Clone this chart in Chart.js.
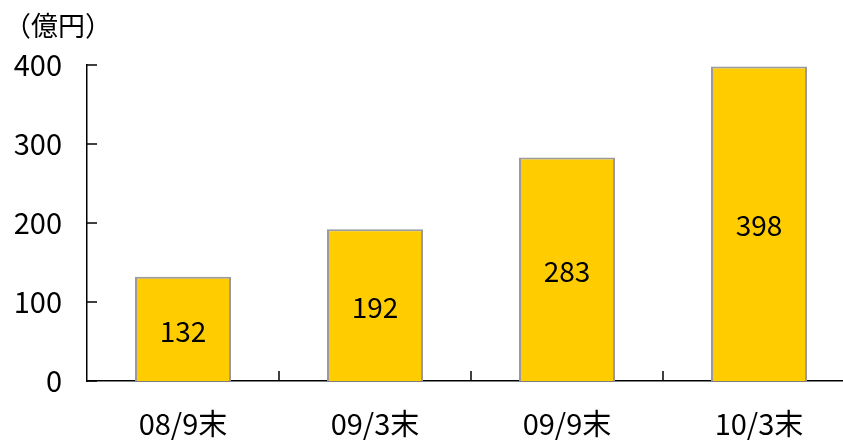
<!DOCTYPE html>
<html>
<head>
<meta charset="utf-8">
<script src="https://cdn.jsdelivr.net/npm/chart.js@4/dist/chart.umd.min.js"></script>
<style>
  html, body { margin: 0; padding: 0; background: #fff; overflow: hidden; }
  #wrap { position: relative; width: 856px; height: 440px; }
</style>
</head>
<body>
<div id="wrap"><canvas id="chart" width="856" height="440"></canvas></div>
<script>
// chart data
const categories = ["08/9末", "09/3末", "09/9末", "10/3末"];
const amounts = [132, 192, 283, 398];
const yTicks = [0, 100, 200, 300, 400];
const unitLabel = "（億円）";

const FONT = "'Noto Sans CJK JP', 'Noto Sans', sans-serif";

// inner tick marks, unit label and value labels
const decorations = {
    id: "decorations",
    afterDraw(chart) {
        const ctx = chart.ctx;
        const xs = chart.scales.x;
        const ys = chart.scales.y;
        const area = chart.chartArea;

        ctx.save();
        ctx.strokeStyle = "#000";
        ctx.lineWidth = 1.5;

        // y ticks pointing into the plot
        yTicks.forEach(v => {
            const y = ys.getPixelForValue(v);
            ctx.beginPath();
            ctx.moveTo(area.left, y);
            ctx.lineTo(area.left + 10, y);
            ctx.stroke();
        });

        // x ticks between categories, pointing up
        for (let i = 1; i < categories.length; i++) {
            const x = (xs.getPixelForValue(i - 1) + xs.getPixelForValue(i)) / 2;
            ctx.beginPath();
            ctx.moveTo(x, area.bottom);
            ctx.lineTo(x, area.bottom - 10);
            ctx.stroke();
        }

        // unit label
        ctx.fillStyle = "#000";
        ctx.font = "27px " + FONT;
        ctx.textAlign = "left";
        ctx.textBaseline = "middle";
        ctx.fillText(unitLabel, 4, 26);

        // values in the middle of the bars
        const meta = chart.getDatasetMeta(0);
        ctx.font = "28px " + FONT;
        ctx.textAlign = "center";
        meta.data.forEach((bar, i) => {
            const mid = (bar.y + bar.base) / 2;
            ctx.fillText(String(amounts[i]), bar.x, mid + 2);
        });
        ctx.restore();
    }
};

new Chart(document.getElementById("chart").getContext("2d"), {
    type: "bar",
    data: {
        labels: categories,
        datasets: [{
            data: amounts,
            backgroundColor: "#FFCC00",
            borderColor: "#9a9a9a",
            borderWidth: 2,
            barPercentage: 0.5,
            categoryPercentage: 1
        }]
    },
    options: {
        responsive: false,
        animation: false,
        layout: { padding: { top: 65, right: 1, left: 0, bottom: 0 } },
        plugins: {
            legend: { display: false },
            tooltip: { enabled: false }
        },
        scales: {
            x: {
                grid: { display: false, drawTicks: false },
                border: { display: true, color: "#000", width: 1.5 },
                ticks: {
                    color: "#000",
                    padding: 26,
                    font: { size: 29, family: FONT }
                },
                afterFit(scale) { scale.height = 59; }
            },
            y: {
                min: 0,
                max: 400,
                afterBuildTicks(scale) {
                    scale.ticks = yTicks.map(v => ({ value: v }));
                },
                grid: { display: false, drawTicks: false },
                border: { display: true, color: "#000", width: 1.5 },
                ticks: {
                    color: "#000",
                    padding: 25,
                    font: { size: 29, family: FONT }
                },
                afterFit(scale) { scale.width = 87; }
            }
        }
    },
    plugins: [decorations]
});
</script>
</body>
</html>
